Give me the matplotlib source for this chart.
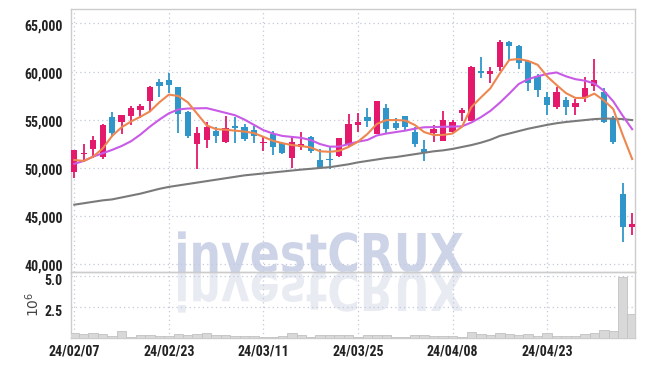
import matplotlib
matplotlib.use("Agg")
import matplotlib.pyplot as plt
import numpy as np
from matplotlib import font_manager
from matplotlib.font_manager import FontProperties
from matplotlib.patches import PathPatch
from matplotlib.textpath import TextPath
from matplotlib.transforms import Affine2D, IdentityTransform, ScaledTranslation
from matplotlib.ticker import FuncFormatter

# trading days shown (yy/mm/dd)
dates = ["24/02/07", "24/02/08", "24/02/13", "24/02/14", "24/02/15", "24/02/16",
         "24/02/19", "24/02/20", "24/02/21", "24/02/22", "24/02/23", "24/02/26",
         "24/02/27", "24/02/28", "24/02/29", "24/03/04", "24/03/05", "24/03/06",
         "24/03/07", "24/03/08", "24/03/11", "24/03/12", "24/03/13", "24/03/14",
         "24/03/15", "24/03/18", "24/03/19", "24/03/20", "24/03/21", "24/03/22",
         "24/03/25", "24/03/26", "24/03/27", "24/03/28", "24/03/29", "24/04/01",
         "24/04/02", "24/04/03", "24/04/04", "24/04/05", "24/04/08", "24/04/09",
         "24/04/11", "24/04/12", "24/04/15", "24/04/16", "24/04/17", "24/04/18",
         "24/04/19", "24/04/22", "24/04/23", "24/04/24", "24/04/25", "24/04/26",
         "24/04/29", "24/04/30", "24/05/02", "24/05/03", "24/05/07", "24/05/08"]

opens = [49600, 51400, 51900, 51150, 55250, 54700, 55400, 56000, 56900, 58900,
         59100, 58400, 55800, 52500, 52900, 53850, 52700, 54350, 54200, 53900,
         52550, 53500, 52600, 51050, 52100, 53150, 50800, 50900, 51200, 52350,
         54400, 55250, 53500, 56200, 54600, 55400, 53700, 51950, 53650, 52800,
         53750, 55650, 54900, 60050, 59750, 60450, 63050, 62700, 61050, 59500,
         57350, 56350, 57050, 56300, 57250, 58450, 57850, 55050, 47250, 43800]
highs = [51850, 52450, 53250, 54500, 55750, 55500, 56450, 56650, 58450, 59200,
         59850, 58400, 55850, 54250, 54750, 54250, 55400, 55250, 54500, 54350,
         53300, 53800, 52650, 53200, 53750, 53300, 51900, 52200, 53100, 55600,
         55700, 56200, 56900, 56650, 55150, 55400, 54250, 52900, 54450, 55900,
         54950, 56200, 60600, 61500, 60450, 63250, 63150, 62800, 61100, 59750,
         57900, 58400, 57400, 57150, 59400, 61300, 58300, 55350, 48450, 45250]
lows = [48950, 50600, 51000, 50900, 53150, 53500, 54450, 55150, 55750, 57400,
        57750, 53600, 53100, 49850, 52000, 52600, 52600, 52600, 52800, 52600,
        51750, 51300, 51400, 49950, 51850, 51500, 49950, 49850, 51150, 52100,
        53750, 54250, 53500, 53500, 53950, 53950, 52100, 50700, 52650, 52800,
        53500, 54900, 54850, 59300, 58800, 60100, 61150, 60300, 58000, 57350,
        55500, 56100, 55500, 55500, 56800, 58000, 54650, 52500, 42250, 43000]
closes = [51800, 51550, 52900, 54450, 53650, 55500, 56200, 56450, 58350, 58450,
          58600, 55600, 53300, 53600, 54250, 53300, 54150, 54150, 53000, 53300,
          52700, 52200, 51550, 52700, 52450, 51750, 49950, 50750, 53050, 54550,
          54700, 54900, 56900, 54050, 54150, 54250, 52450, 51650, 54050, 54950,
          54750, 56000, 60500, 59850, 60050, 63050, 62700, 60850, 58800, 58100,
          56550, 57850, 56300, 56700, 58300, 59150, 54700, 52650, 43800, 44150]
volumes = [360000, 280000, 390000, 310000, 140000, 500000, 50000, 200000, 200000, 100000,
           150000, 280000, 220000, 310000, 360000, 220000, 200000, 110000, 110000, 110000,
           30000, 80000, 110000, 360000, 220000, 30000, 200000, 200000, 200000, 200000,
           80000, 220000, 170000, 220000, 30000, 30000, 220000, 220000, 110000, 110000,
           110000, 30000, 440000, 310000, 220000, 360000, 280000, 200000, 280000, 110000,
           360000, 110000, 110000, 110000, 300000, 390000, 580000, 500000, 4900000, 1920000]

# moving averages as drawn
ma_short = [50800, 50700, 51150, 52000, 53300, 54200, 54800, 55300, 55850, 56800,
            57600, 57450, 56800, 55600, 54400, 54000, 53950, 53850, 53750, 53600,
            53200, 52800, 52550, 52350, 52250, 52100, 51700, 51650, 51750, 52150,
            52700, 53500, 54550, 54950, 54950, 54900, 54450, 53700, 53400, 53400,
            53550, 54250, 56300, 57300, 58250, 59800, 61200, 61300, 61100, 60700,
            59500, 58600, 57750, 57250, 57250, 57700, 57000, 56100, 53400, 50900]
ma_mid = [50400, 50700, 51150, 51500, 51850, 52250, 52750, 53450, 54270, 55000,
          55650, 56050, 56150, 56170, 56190, 55950, 55700, 55450, 55000, 54450,
          53900, 53550, 53300, 53200, 53100, 52870, 52450, 52190, 52190, 52450,
          52700, 52880, 53350, 53550, 53700, 53850, 54050, 54200, 54220, 54250,
          54270, 54300, 54700, 55250, 55900, 56750, 57700, 58700, 59200, 59500,
          59750, 59900, 59500, 59200, 59050, 58750, 58000, 56900, 55400, 54000]
ma_long = [46150, 46300, 46450, 46600, 46700, 46900, 47100, 47300, 47550, 47800,
           48000, 48150, 48300, 48450, 48600, 48750, 48900, 49050, 49200, 49300,
           49400, 49500, 49600, 49700, 49800, 49880, 49970, 50050, 50200, 50350,
           50550, 50700, 50850, 51000, 51100, 51250, 51400, 51550, 51700, 51800,
           51950, 52150, 52350, 52600, 52900, 53300, 53550, 53800, 54050, 54250,
           54450, 54620, 54750, 54850, 54950, 55050, 55100, 55100, 55050, 54950]

UP = "#e4196c"
DOWN = "#3096c9"
GRID = "#c3c8dc"
SPINE = "#cccccc"

names = {f.name for f in font_manager.fontManager.ttflist}
fam = "DejaVu Sans"
for cand in ["Liberation Sans Narrow", "Roboto Condensed", "Open Sans Condensed"]:
    if cand in names:
        fam = cand
        break
tick_font = FontProperties(family=[fam, "DejaVu Sans"], weight="bold", size=10)

W, H = 645, 366
fig = plt.figure(figsize=(W / 100, H / 100), dpi=100)
fig.patch.set_facecolor("white")

x0, x1 = 71, 635
ax = fig.add_axes([x0 / W, 1 - 272 / H, (x1 - x0) / W, (272 - 9) / H])
axv = fig.add_axes([x0 / W, 1 - 337.5 / H, (x1 - x0) / W, (337.5 - 272) / H], sharex=ax)

x = np.arange(len(dates))
o = np.array(opens)
c = np.array(closes)
up = c >= o
cols = np.where(up, UP, DOWN)

# candles
ax.vlines(x, lows, highs, colors=cols, linewidth=1.3, zorder=3)
ax.bar(x, np.maximum(np.abs(c - o), 150), bottom=np.minimum(o, c), width=0.66,
       color=cols, linewidth=0, zorder=4)

ax.plot(x, ma_long, color="#7a7a7a", lw=1.5, zorder=5)
ax.plot(x, ma_mid, color="#c95ae6", lw=1.5, zorder=5)
ax.plot(x, ma_short, color="#ee8650", lw=1.5, zorder=6)

ax.set_xlim(-0.35, 59.3)
ax.set_ylim(39150, 66500)
ax.set_yticks([40000, 45000, 50000, 55000, 60000, 65000])
ax.yaxis.set_major_formatter(FuncFormatter(lambda v, p: f"{v:,.0f}"))

# volume
axv.bar(x, np.array(volumes) / 1e6, width=1.0, color="#d8d8d8",
        edgecolor="#c2c2c2", linewidth=0.6, zorder=3)
axv.set_ylim(0, 5.3)
axv.set_yticks([2.5, 5.0])
axv.yaxis.set_major_formatter(FuncFormatter(lambda v, p: f"{v:.1f}"))
axv.set_ylabel(r"$10^{6}$", fontsize=10, color="#444444", labelpad=2)

ticks = list(range(0, len(dates), 10))
axv.set_xticks(ticks)
axv.set_xticklabels([dates[i] for i in ticks])

for a, dy in ((ax, -1.0), (axv, -3.0)):
    a.set_facecolor("none")
    a.grid(True, color=GRID, linestyle=(0, (1, 2.5)), linewidth=0.9)
    a.set_axisbelow(True)
    a.tick_params(length=0, pad=6, colors="#222222")
    for s in a.spines.values():
        s.set_color(SPINE)
        s.set_linewidth(1.0)
    for lab in a.get_yticklabels() + a.get_xticklabels():
        lab.set_fontproperties(tick_font)
    shift = ScaledTranslation(0, dy / 72, fig.dpi_scale_trans)
    for lab in a.get_yticklabels():
        lab.set_transform(lab.get_transform() + shift)
ax.tick_params(labelbottom=False)
axv.tick_params(axis="x", pad=5)

# watermark with reflection (pixel coordinates)
wm_prop = FontProperties(family="DejaVu Sans", weight="bold")
tp = TextPath((0, 0), "investCRUX", size=100, prop=wm_prop)
ext = tp.get_extents()
sx = 285 / ext.width
sy = 39 / 72.9
base_y = H - 272
left = 178
t_main = Affine2D().translate(-ext.x0, 0).scale(sx, sy).translate(left, base_y)
t_refl = Affine2D().translate(-ext.x0, 0).scale(sx, -sy).translate(left, base_y)
fig.patches.append(PathPatch(tp, transform=t_main + IdentityTransform(),
                             facecolor="#ced4e8", edgecolor="none", zorder=-1))
fig.patches.append(PathPatch(tp, transform=t_refl + IdentityTransform(),
                             facecolor="#e9ebf2", edgecolor="none", zorder=-1))

fig.savefig("out.png", dpi=100)
